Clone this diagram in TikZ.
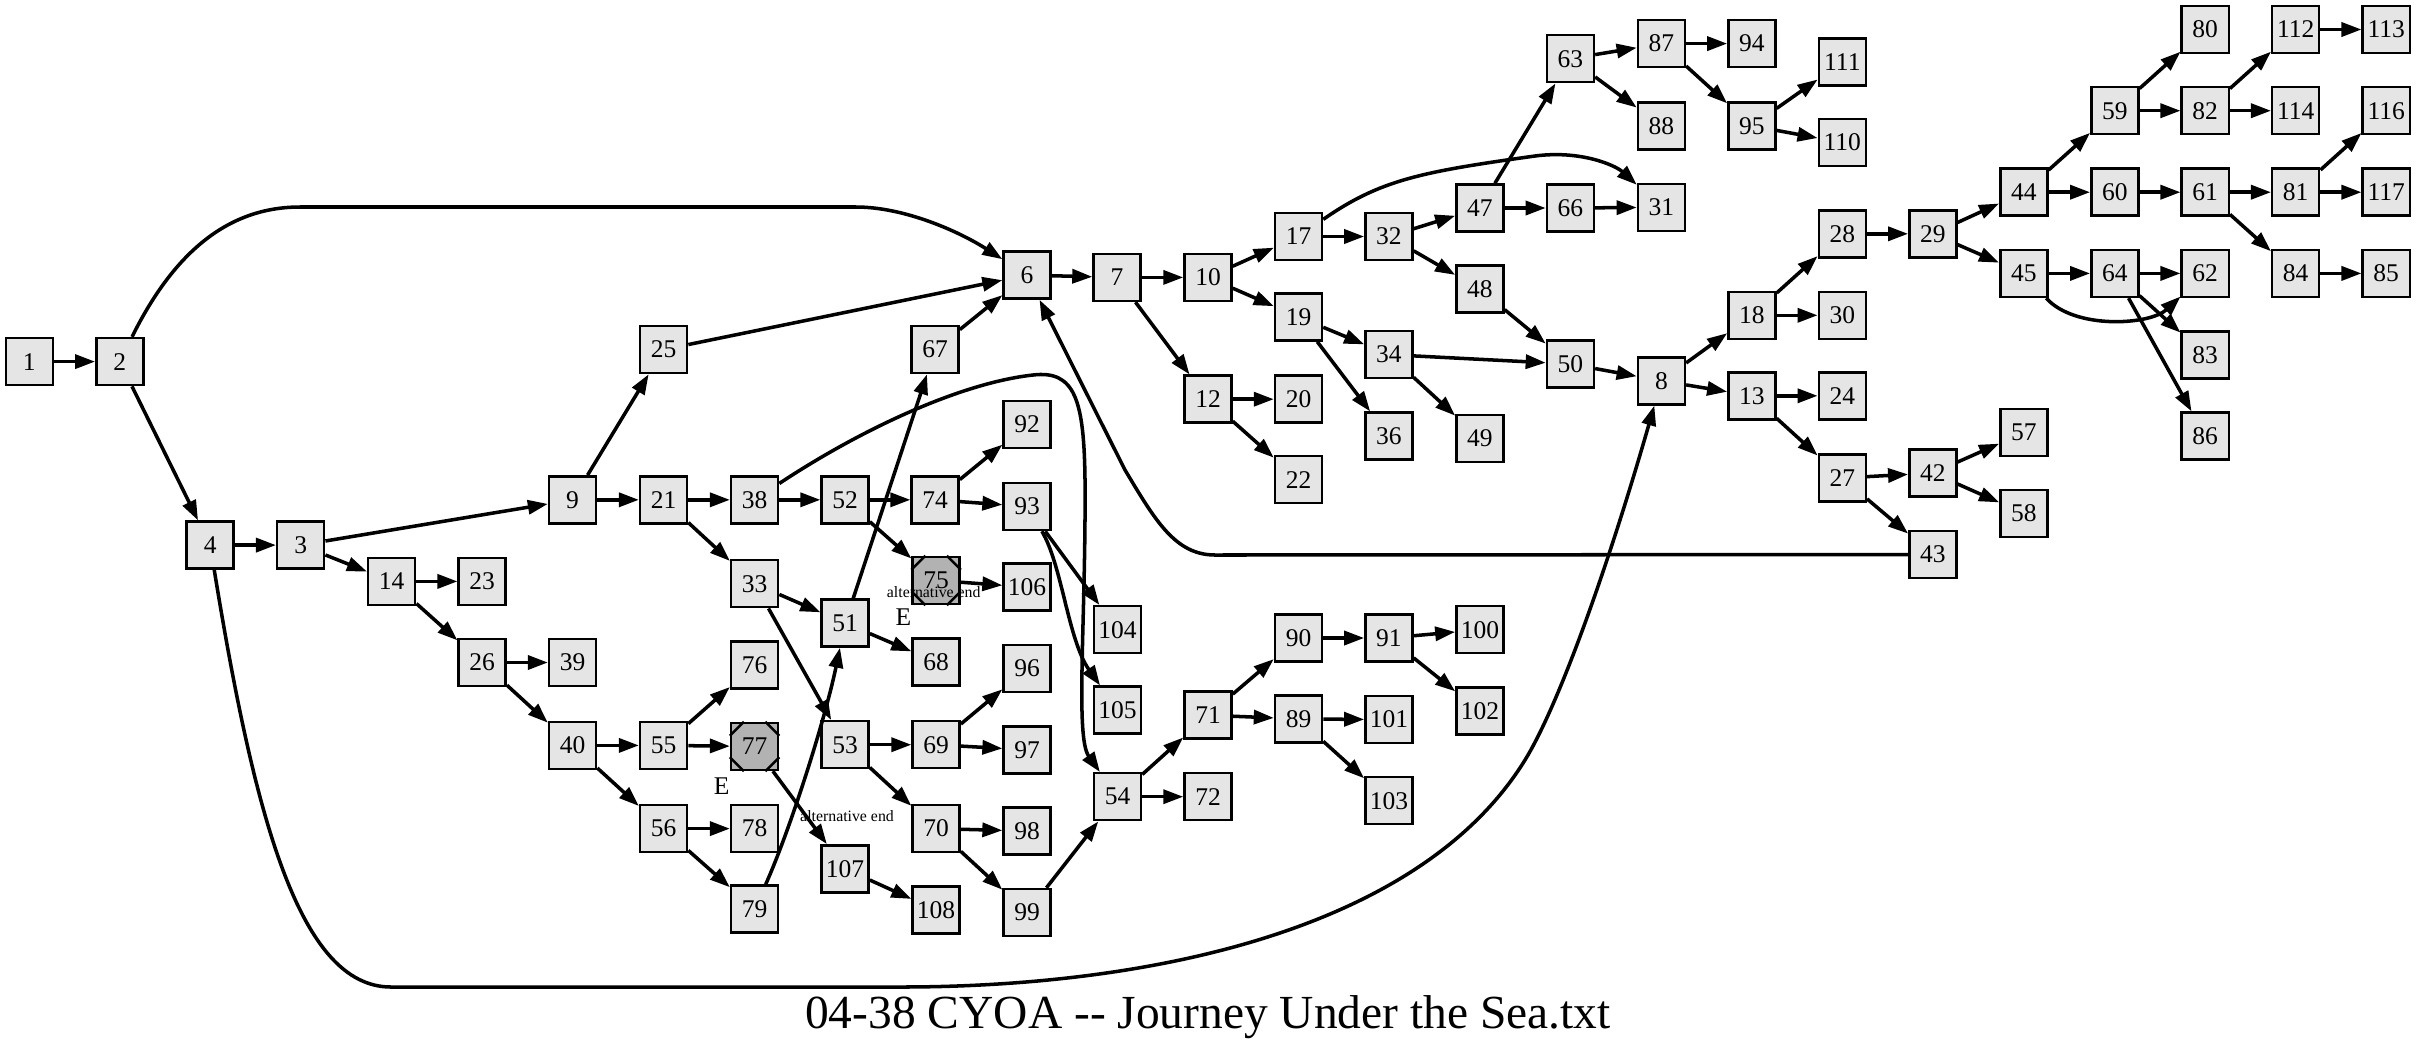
\documentclass[tikz,border=0pt]{standalone}
\usepackage{fontspec}
\setmainfont{Liberation Serif}
\usetikzlibrary{arrows.meta}
\begin{document}
\begin{tikzpicture}[x=0.01cm,y=-0.01cm,
  box/.style={draw=black,line width=0.7pt,fill=gray!20,minimum width=0.47cm,minimum height=0.47cm,inner sep=0pt,font=\fontsize{7.25}{8}\selectfont},
  octbox/.style={box,fill=gray!60},
  edge/.style={line width=1.0pt,-{Triangle[length=0.2cm,width=0.14cm]}},
  smalllbl/.style={inner sep=0pt,font=\fontsize{4.5}{5}\selectfont},
  elbl/.style={inner sep=0pt,font=\fontsize{7.25}{8}\selectfont}]
\useasboundingbox (0,0) rectangle (2416,1051);
% nodes
\node[box] (n1) at (29.3,361.6) {1};
\node[box] (n2) at (119.8,361.6) {2};
\node[box] (n4) at (210.2,545.1) {4};
\node[box] (n3) at (300.7,545.1) {3};
\node[box] (n14) at (391.7,581.4) {14};
\node[box] (n23) at (482.2,581.4) {23};
\node[box] (n26) at (482.2,662.5) {26};
\node[box] (n39) at (572.6,662.5) {39};
\node[box] (n40) at (572.6,745.4) {40};
\node[box] (n55) at (663.6,745.4) {55};
\node[box] (n56) at (663.6,828.6) {56};
\node[box] (n76) at (754.6,665.2) {76};
\node[octbox] (n77) at (754.6,746.4) {77};
\node[box] (n78) at (754.6,828.6) {78};
\node[box] (n79) at (754.6,909.1) {79};
\node[box] (n9) at (572.6,499.8) {9};
\node[box] (n25) at (663.6,349.6) {25};
\node[box] (n21) at (663.6,499.8) {21};
\node[box] (n38) at (754.6,499.8) {38};
\node[box] (n33) at (754.6,583.7) {33};
\node[box] (n52) at (845.1,499.8) {52};
\node[box] (n51) at (845.1,623.0) {51};
\node[box] (n53) at (845.1,744.7) {53};
\node[box] (n107) at (845.1,868.8) {107};
\node[box] (n67) at (935.1,349.6) {67};
\node[box] (n74) at (935.1,499.8) {74};
\node[octbox] (n75) at (936.1,580.4) {75};
\node[box] (n68) at (936.1,661.9) {68};
\node[box] (n69) at (936.1,744.7) {69};
\node[box] (n70) at (936.1,828.6) {70};
\node[box] (n108) at (936.1,910.1) {108};
\node[box] (n6) at (1027.1,275.1) {6};
\node[box] (n92) at (1027.1,424.4) {92};
\node[box] (n93) at (1027.1,506.5) {93};
\node[box] (n106) at (1027.1,587.1) {106};
\node[box] (n96) at (1027.1,668.6) {96};
\node[box] (n97) at (1027.1,749.8) {97};
\node[box] (n98) at (1027.1,831.0) {98};
\node[box] (n99) at (1027.1,912.5) {99};
\node[box] (n7) at (1117.0,277.4) {7};
\node[box] (n104) at (1117.5,629.7) {104};
\node[box] (n105) at (1117.5,710.2) {105};
\node[box] (n54) at (1117.5,796.7) {54};
\node[box] (n10) at (1208.0,277.4) {10};
\node[box] (n12) at (1208.0,399.2) {12};
\node[box] (n71) at (1208.0,715.2) {71};
\node[box] (n72) at (1208.0,796.7) {72};
\node[box] (n17) at (1298.5,236.5) {17};
\node[box] (n19) at (1298.5,317.0) {19};
\node[box] (n20) at (1298.5,399.2) {20};
\node[box] (n22) at (1298.5,479.7) {22};
\node[box] (n90) at (1298.5,638.0) {90};
\node[box] (n89) at (1298.5,718.9) {89};
\node[box] (n32) at (1388.9,236.5) {32};
\node[box] (n34) at (1388.9,354.6) {34};
\node[box] (n36) at (1388.9,436.1) {36};
\node[box] (n91) at (1388.9,638.0) {91};
\node[box] (n101) at (1388.9,719.6) {101};
\node[box] (n103) at (1388.9,800.7) {103};
\node[box] (n47) at (1479.9,208.0) {47};
\node[box] (n48) at (1479.9,289.2) {48};
\node[box] (n49) at (1479.9,438.4) {49};
\node[box] (n100) at (1479.9,629.7) {100};
\node[box] (n102) at (1479.9,711.2) {102};
\node[box] (n63) at (1570.4,58.7) {63};
\node[box] (n66) at (1570.4,208.0) {66};
\node[box] (n50) at (1570.4,364.0) {50};
\node[box] (n87) at (1661.4,43.6) {87};
\node[box] (n88) at (1661.4,125.8) {88};
\node[box] (n31) at (1661.4,207.3) {31};
\node[box] (n8) at (1661.4,380.8) {8};
\node[box] (n94) at (1751.9,43.6) {94};
\node[box] (n95) at (1751.9,125.8) {95};
\node[box] (n18) at (1751.9,315.3) {18};
\node[box] (n13) at (1751.9,395.8) {13};
\node[box] (n111) at (1842.3,62.1) {111};
\node[box] (n110) at (1842.3,142.6) {110};
\node[box] (n28) at (1842.3,233.8) {28};
\node[box] (n30) at (1842.3,315.3) {30};
\node[box] (n24) at (1842.3,395.8) {24};
\node[box] (n27) at (1842.3,478.0) {27};
\node[box] (n29) at (1932.8,233.8) {29};
\node[box] (n42) at (1932.8,473.0) {42};
\node[box] (n43) at (1932.8,554.5) {43};
\node[box] (n44) at (2023.8,192.2) {44};
\node[box] (n45) at (2023.8,273.4) {45};
\node[box] (n57) at (2023.8,432.7) {57};
\node[box] (n58) at (2023.8,513.3) {58};
\node[box] (n59) at (2114.8,110.7) {59};
\node[box] (n60) at (2114.8,192.2) {60};
\node[box] (n64) at (2114.8,273.4) {64};
\node[box] (n80) at (2205.2,29.5) {80};
\node[box] (n82) at (2205.2,110.7) {82};
\node[box] (n61) at (2205.2,192.2) {61};
\node[box] (n62) at (2205.2,273.4) {62};
\node[box] (n83) at (2205.2,354.9) {83};
\node[box] (n86) at (2205.2,436.1) {86};
\node[box] (n112) at (2295.7,29.5) {112};
\node[box] (n114) at (2295.7,110.7) {114};
\node[box] (n81) at (2295.7,192.2) {81};
\node[box] (n84) at (2295.7,273.4) {84};
\node[box] (n113) at (2386.2,29.5) {113};
\node[box] (n116) at (2386.2,110.7) {116};
\node[box] (n117) at (2386.2,192.2) {117};
\node[box] (n85) at (2386.2,273.4) {85};
% octagon corner cuts
\foreach \n in {n75,n77}{
  \draw[line width=0.7pt] ([yshift=-0.14cm]\n.north west) -- ([xshift=0.14cm]\n.north west);
  \draw[line width=0.7pt] ([yshift=-0.14cm]\n.north east) -- ([xshift=-0.14cm]\n.north east);
  \draw[line width=0.7pt] ([yshift=0.14cm]\n.south west) -- ([xshift=0.14cm]\n.south west);
  \draw[line width=0.7pt] ([yshift=0.14cm]\n.south east) -- ([xshift=-0.14cm]\n.south east);
}
% straight edges
\foreach \a/\b in {1/2,2/4,4/3,3/9,3/14,9/25,9/21,25/6,21/38,21/33,38/52,52/74,52/75,74/92,74/93,93/104,75/106,
  14/23,14/26,26/39,26/40,40/55,40/56,55/76,55/77,77/107,56/78,56/79,33/51,33/53,51/67,51/68,67/6,
  53/69,53/70,69/96,69/97,70/98,70/99,107/108,99/54,54/71,54/72,71/90,71/89,90/91,91/100,91/102,89/101,89/103,
  6/7,7/10,7/12,10/17,10/19,12/20,12/22,17/32,32/47,32/48,47/63,47/66,66/31,63/87,63/88,87/94,87/95,95/111,95/110,
  48/50,19/34,19/36,34/50,34/49,50/8,8/18,8/13,18/28,18/30,28/29,29/44,29/45,44/59,44/60,59/80,59/82,82/112,82/114,
  112/113,60/61,61/81,61/84,81/116,81/117,84/85,45/64,64/62,64/83,64/86,13/24,13/27,27/42,27/43,42/57,42/58}
  {\draw[edge] (n\a) -- (n\b);}
% curved edges
\draw[edge] (n2) .. controls (175,250) and (230,207) .. (300,207) -- (856,207) .. controls (905,207) and (960,232) .. (n6);
\draw[edge] (n4) .. controls (255,820) and (300,987) .. (391,987) -- (900,987) .. controls (1150,987) and (1420,930) .. (1525,760) .. controls (1560,703) and (1610,560) .. (n8);
\draw[edge] (n43) -- (1215,555) .. controls (1175,555) and (1155,520) .. (1125,470) -- (n6);
\draw[edge] (n38) .. controls (860,430) and (960,383) .. (1033,375) .. controls (1075,370) and (1084,400) .. (1085,480) .. controls (1086,620) and (1075,737) .. (n54);
\draw[edge] (n17) .. controls (1380,180) and (1420,172) .. (1535,156) .. controls (1580,150) and (1615,165) .. (n31);
\draw[edge] (n45) .. controls (2075,330) and (2150,325) .. (n62);
\draw[edge] (n93) .. controls (1062,565) and (1068,640) .. (n105);
\draw[edge] (n79) .. controls (790,830) and (825,720) .. (n51);
% labels
\node[smalllbl] (l75) at (933.7,592.3) {alternative end};
\node[elbl] (e75) at (903.3,617.3) {E};
\node[smalllbl] (l77) at (847,816) {alternative end};
\node[elbl] (e77) at (721.7,785.7) {E};
\node[anchor=base,inner sep=0pt,font=\fontsize{13.5}{16}\selectfont] (title) at (1208,1028) {04-38 CYOA -\kern0pt- Journey Under the Sea.txt};
\end{tikzpicture}
\end{document}
